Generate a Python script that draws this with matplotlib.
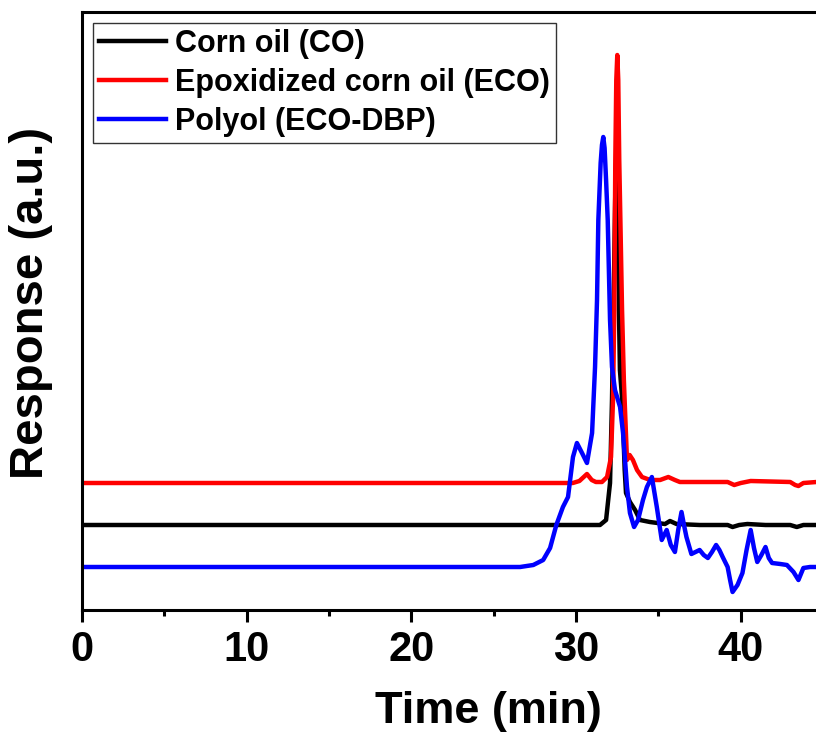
import matplotlib.pyplot as plt
from matplotlib.ticker import MultipleLocator

plt.rcParams['font.family'] = ['Liberation Sans', 'DejaVu Sans']
plt.rcParams['font.weight'] = 'bold'

# time (min) and response (arbitrary units)
co_t = [0, 10, 20, 28, 31.0, 31.45, 31.82, 32.06, 32.18, 32.3, 32.4, 32.5,
        32.57, 32.6, 32.66, 32.8, 32.95, 33.03, 33.27, 33.58, 33.88, 34.48,
        35.4, 35.7, 36.1, 37.5, 39.2, 39.5, 39.9, 40.4, 41.5, 43.0, 43.4, 43.8, 44.6]
co_y = [85, 85, 85, 85, 85, 85, 90, 127, 210, 330, 440, 462,
        420, 300, 240, 210, 140, 117, 108, 100, 90, 88,
        86, 89, 86, 85, 85, 83, 85, 86, 85, 85, 83, 85, 85]

eco_t = [0, 10, 20, 29.8, 30.2, 30.66, 30.95, 31.2, 31.57, 31.88, 32.12, 32.24,
         32.32, 32.38, 32.44, 32.5, 32.56, 32.62, 32.7, 32.79, 32.9, 32.97, 33.09,
         33.25, 33.45, 33.7, 34.0, 34.5, 35.1, 35.6, 36.0, 36.3, 39.2, 39.6, 40.0,
         40.6, 43.0, 43.3, 43.5, 43.8, 44.6]
eco_y = [127, 127, 127, 127, 129, 136, 130, 128, 128, 133, 153, 210,
         300, 450, 530, 555, 530, 450, 380, 300, 230, 200, 150,
         155, 150, 140, 133, 130, 130, 133, 130, 128, 128, 125, 127,
         129, 128, 125, 124, 127, 128]

pol_t = [0, 10, 20, 26.6, 27.4, 28.0, 28.42, 28.8, 29.2, 29.51, 29.81, 30.05,
         30.36, 30.66, 30.97, 31.15, 31.27, 31.35, 31.49, 31.57, 31.65, 31.73,
         31.82, 31.92, 32.06, 32.18, 32.36, 32.67, 32.85, 33.09, 33.27, 33.52,
         33.76, 34.06, 34.3, 34.6, 34.9, 35.2, 35.5, 35.75, 36.0, 36.2, 36.4,
         36.55, 36.7, 37.0, 37.25, 37.5, 37.75, 38.0, 38.25, 38.5, 38.7, 38.9,
         39.2, 39.35, 39.5, 39.8, 40.1, 40.35, 40.6, 40.8, 41.0, 41.25, 41.5,
         41.7, 41.9, 42.4, 42.8, 43.2, 43.5, 43.8, 44.2, 44.6]
pol_y = [43, 43, 43, 43, 45, 50, 62, 85, 103, 113, 153, 167,
         157, 147, 177, 243, 310, 390, 447, 465, 473, 462,
         430, 390, 290, 243, 220, 203, 177, 123, 97, 83,
         90, 110, 123, 133, 103, 70, 80, 65, 58, 80, 98,
         85, 73, 56, 58, 60, 55, 52, 58, 65, 60, 53,
         43, 30, 18, 25, 37, 60, 80, 62, 48, 55, 63,
         52, 47, 46, 45, 38, 30, 42, 43, 43]

fig = plt.figure(figsize=(8.16, 7.39), dpi=100)
ax = fig.add_axes([82 / 816, 129 / 739, 49.3 * 16.47 / 816, 598 / 739])

ax.plot(co_t, co_y, c='black', lw=3.2, label='Corn oil (CO)')
ax.plot(eco_t, eco_y, c='red', lw=3.2, label='Epoxidized corn oil (ECO)')
ax.plot(pol_t, pol_y, c='blue', lw=3.2, label='Polyol (ECO-DBP)')

ax.set_xlim(0, 49.3)
ax.set_ylim(0, 598)
ax.set_yticks([])
ax.xaxis.set_major_locator(MultipleLocator(10))
ax.xaxis.set_minor_locator(MultipleLocator(5))
ax.tick_params(axis='x', which='major', direction='out', length=8.5, width=2.2,
               labelsize=30, pad=6)
ax.tick_params(axis='x', which='minor', direction='out', length=4, width=2.2)
for s in ax.spines.values():
    s.set_linewidth(2.2)

ax.set_xlabel('Time (min)', fontsize=32.5, fontweight='bold', labelpad=15)
ax.set_ylabel('Response (a.u.)', fontsize=34, fontweight='bold')
ax.yaxis.set_label_coords(-0.036, 0.513)

leg = ax.legend(loc='upper left', fontsize=22, frameon=True, fancybox=False,
                edgecolor='black', handlelength=2.2, handletextpad=0.3,
                labelspacing=0.3, borderpad=0.2, borderaxespad=0.35)
leg.get_frame().set_linewidth(1)

plt.savefig('out.png', dpi=100)
